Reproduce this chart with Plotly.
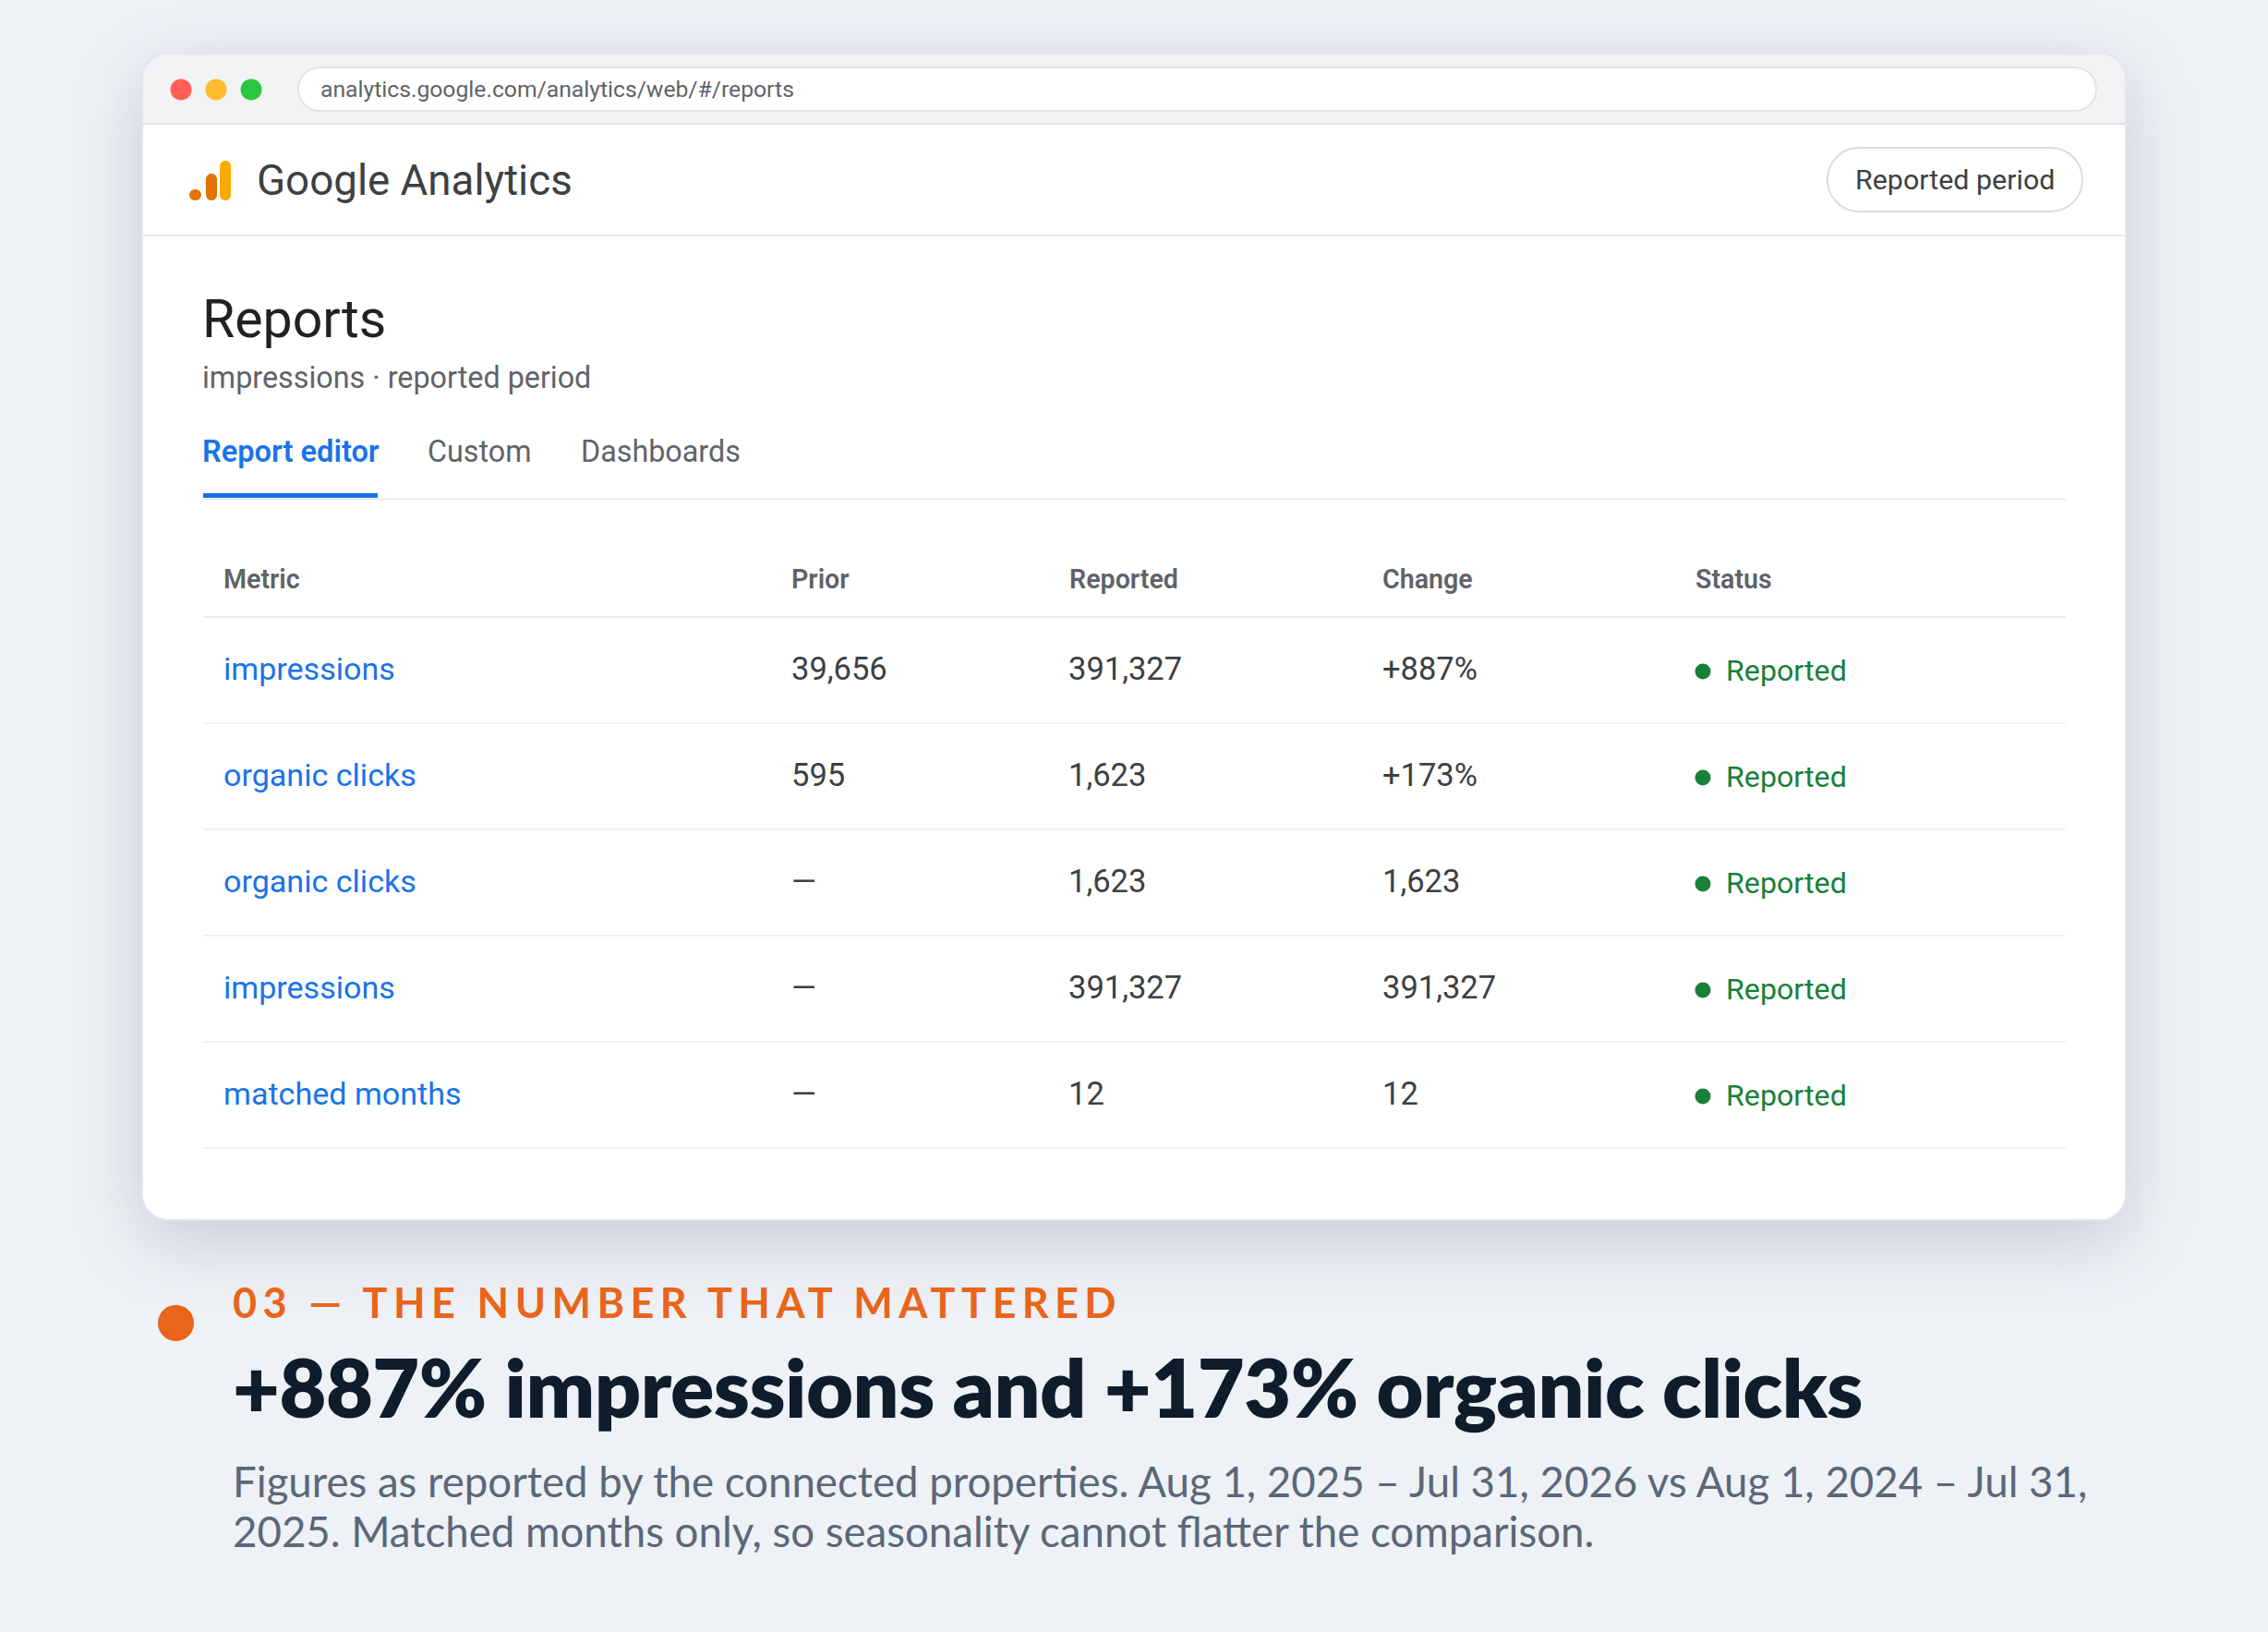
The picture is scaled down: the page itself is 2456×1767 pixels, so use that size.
import plotly.graph_objects as go

W, H = 2456, 1767
BG = "#EEF1F6"

URL = "analytics.google.com/analytics/web/#/reports"
BRAND = "Google Analytics"
PERIOD = "Reported period"
PAGE_TITLE = "Reports"
PAGE_SUB = "impressions · reported period"
TABS = ["Report editor", "Custom", "Dashboards"]
COLUMNS = ["Metric", "Prior", "Reported", "Change", "Status"]
metrics = ["impressions", "organic clicks", "organic clicks", "impressions", "matched months"]
prior = ["39,656", "595", "—", "—", "—"]
reported = ["391,327", "1,623", "1,623", "391,327", "12"]
change = ["+887%", "+173%", "1,623", "391,327", "12"]
status = ["Reported"] * 5
EYEBROW = "03 — THE NUMBER THAT MATTERED"
HEADLINE = "+887% impressions and +173% organic clicks"
BODY_LINES = [
    "Figures as reported by the connected properties. Aug 1, 2025 – Jul 31, 2026 vs Aug 1, 2024 – Jul 31,",
    "2025. Matched months only, so seasonality cannot flatter the comparison.",
]

ASC = {"Roboto": 0.927, "Lato": 0.987}
annos, shapes = [], []


def text(x, base, s, family, size, color, weight=400, anchor="left"):
    annos.append(dict(
        x=x, y=base - ASC[family] * size, text=s, xref="x", yref="y",
        xanchor=anchor, yanchor="top", showarrow=False, borderpad=0, borderwidth=0,
        align="left", font=dict(family=family, size=size, color=color, weight=weight),
    ))


def rr(x0, y0, x1, y1, r=None, rt=None, rb=None):
    k = 0.5523
    rt = r if rt is None else rt
    rb = r if rb is None else rb
    return (
        f"M{x0+rt},{y0} L{x1-rt},{y0} C{x1-rt+k*rt},{y0} {x1},{y0+rt-k*rt} {x1},{y0+rt} "
        f"L{x1},{y1-rb} C{x1},{y1-rb+k*rb} {x1-rb+k*rb},{y1} {x1-rb},{y1} "
        f"L{x0+rb},{y1} C{x0+rb-k*rb},{y1} {x0},{y1-rb+k*rb} {x0},{y1-rb} "
        f"L{x0},{y0+rt} C{x0},{y0+rt-k*rt} {x0+rt-k*rt},{y0} {x0+rt},{y0} Z"
    )


def path(d, fill=None, line=None, lw=0):
    shapes.append(dict(type="path", path=d, xref="x", yref="y", fillcolor=fill or "rgba(0,0,0,0)",
                       line=dict(color=line or "rgba(0,0,0,0)", width=lw), layer="below"))


def hline(x0, x1, y, color, lw=2):
    shapes.append(dict(type="line", x0=x0, x1=x1, y0=y, y1=y, xref="x", yref="y",
                       line=dict(color=color, width=lw), layer="below"))


# window geometry
L, T, R, B = 154, 58, 2302, 1321

# soft shadow: one rounded rectangle, blurred after plotting
path(rr(L, T + 22, R, B + 22, r=28), fill="rgba(30,40,70,0.187)")

# window body and chrome
path(rr(L, T, R, B, r=28), fill="#FFFFFF", line="#E3E6EC", lw=2)
path(rr(L + 1, T + 1, R - 1, 134, rt=27, rb=0), fill="#F1F3F4")
hline(L, R, 134, "#DFE1E6", 2)
hline(L, R, 255, "#E8EAED", 2)
for cx, col in zip([196, 234, 272], ["#FF5F57", "#FEBC2E", "#28C840"]):
    path(rr(cx - 11.5, 97 - 11.5, cx + 11.5, 97 + 11.5, r=11.5), fill=col)
path(rr(323, 73, 2270, 120, r=23.5), fill="#FFFFFF", line="#E1E3E8", lw=2)
text(347, 105, URL, "Roboto", 24.7, "#5F6368")

# logo
path(rr(205, 205, 218, 217, r=6.2), fill="#E37400")
path(rr(223, 188, 235, 217, r=6), fill="#E37400")
path(rr(238, 174, 250, 217, r=6), fill="#F9AB00")
text(278, 211, BRAND, "Roboto", 45.7, "#3C4043")
path(rr(1979, 160, 2255, 229, r=34), fill="#FFFFFF", line="#DADCE0", lw=2)
text(2117, 205, PERIOD, "Roboto", 30.4, "#3C4043", anchor="center")

# page header
text(219, 365, PAGE_TITLE, "Roboto", 57.2, "#202124")
text(219, 420, PAGE_SUB, "Roboto", 32.3, "#5F6368")
for x, s, c, w, z in zip([219, 463, 629], TABS, ["#1A73E8", "#5F6368", "#5F6368"], [600, 400, 400], [32.6, 32.3, 32.3]):
    text(x, 500, s, "Roboto", z, c, weight=w)
hline(220, 2237, 540.5, "#E8EAED", 2)
shapes.append(dict(type="rect", x0=220, x1=409, y0=534, y1=539, xref="x", yref="y",
                   fillcolor="#1A73E8", line=dict(width=0), layer="below"))

# table
COLX = [242, 857, 1157.5, 1497, 1836]
RULES = [668, 783, 898, 1013, 1128, 1243]
for x, s in zip(COLX, COLUMNS):
    text(x, 637, s, "Roboto", 28.6, "#5F6368", weight=600)
hline(220, 2237, RULES[0], "#E8EAED", 2)
for y in RULES[1:]:
    hline(220, 2237, y, "#F1F3F4", 2)
for i in range(5):
    base = RULES[i] + 67.5
    text(COLX[0], base, metrics[i], "Roboto", 34.1, "#1A73E8")
    text(COLX[1], base, prior[i], "Roboto", 34.5, "#3C4043")
    text(COLX[2] - 0.5, base, reported[i], "Roboto", 34.5, "#3C4043")
    text(COLX[3], base, change[i], "Roboto", 34.5, "#3C4043")
    text(1869, RULES[i] + 69, status[i], "Roboto", 32.2, "#188038")

traces = [go.Scatter(
    x=[1844] * 5, y=[r + 59 for r in RULES[:5]], mode="markers",
    marker=dict(size=17, color="#188038", line=dict(width=0)), hoverinfo="skip", showlegend=False,
)]

# caption
path(rr(171, 1413, 210, 1452, r=19.5), fill="#E8651A")
text(252, 1427, EYEBROW, "Lato", 45, "#E8651A", weight=700)
text(252, 1535, HEADLINE, "Lato", 87.85, "#0F1C2C", weight=800)
for base, s in zip([1621, 1675.5], BODY_LINES):
    text(252, base, s, "Lato", 45.6, "#5B6779")

fig = go.Figure(traces)
fig.update_layout(
    width=W, height=H, autosize=False, margin=dict(l=0, r=0, t=0, b=0, pad=0),
    paper_bgcolor=BG, plot_bgcolor=BG, showlegend=False, annotations=annos, shapes=shapes,
    xaxis=dict(visible=False, range=[0, W], fixedrange=True),
    yaxis=dict(visible=False, range=[H, 0], fixedrange=True),
)
post = """
document.documentElement.style.margin='0';
document.body.style.margin='0';
document.body.style.background='%s';
document.querySelectorAll('.annotation-text').forEach(function(t){
  if (t.textContent.indexOf('03 ')===0) { t.style.letterSpacing='0.142em'; }
  if (t.textContent.indexOf('+887%% impressions')===0) { t.style.letterSpacing='-0.5px'; }
});
var s = document.querySelector('.layer-subplot .shapelayer path');
if (s) { s.style.filter='blur(38px)'; }
""" % BG
fig.write_html("out.html", config=dict(displayModeBar=False, staticPlot=True), post_script=post)
